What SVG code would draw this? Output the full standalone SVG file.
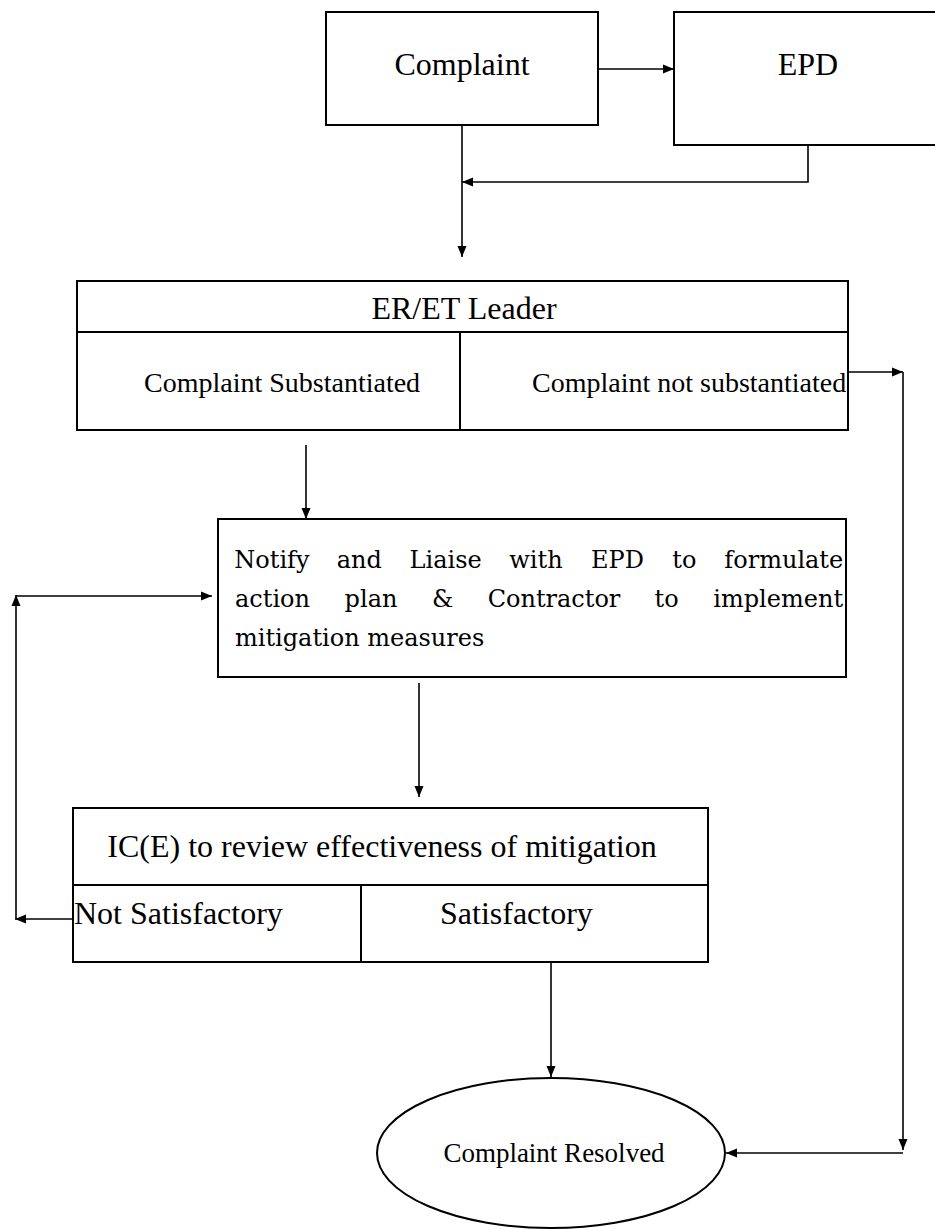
<svg xmlns="http://www.w3.org/2000/svg" width="935" height="1230" viewBox="0 0 935 1230">
<defs>
<marker id="ah" markerWidth="12" markerHeight="10" refX="11" refY="5" orient="auto" markerUnits="userSpaceOnUse"><path d="M0,0.5 L11,5 L0,9.5 z" fill="#000"/></marker>
</defs>
<style>
.box{fill:#fff;stroke:#000;stroke-width:2}
.div{stroke:#000;stroke-width:2;fill:none}
.con{stroke:#000;stroke-width:1.6;fill:none;marker-end:url(#ah)}
.t{font-family:"Liberation Serif","Times New Roman",serif;fill:#000}
.t32{font-size:32px}
.t28{font-size:28px}
.t27{font-size:27px}
.n{font-family:"DejaVu Serif",serif;font-size:24px;fill:#000}
</style>
<rect width="935" height="1230" fill="#fff"/>
<g id="complaint">
<rect class="box" x="326" y="12" width="272" height="113"/>
<text class="t t32" x="462" y="75" text-anchor="middle">Complaint</text>
</g>
<g id="epd">
<rect class="box" x="674" y="12" width="270" height="133"/>
<text class="t t32" x="808" y="75" text-anchor="middle">EPD</text>
</g>
<g id="er-et-leader">
<rect class="box" x="77" y="281" width="771" height="149"/>
<line class="div" x1="77" y1="332" x2="848" y2="332"/>
<line class="div" x1="460" y1="332" x2="460" y2="430"/>
<text class="t t32" x="464" y="319" text-anchor="middle">ER/ET Leader</text>
<text class="t t28" x="144" y="392">Complaint Substantiated</text>
<text class="t t28" x="532" y="392">Complaint not substantiated</text>
</g>
<g id="notify">
<rect class="box" x="218" y="519" width="628" height="158"/>
<text class="n" y="568" text-anchor="middle"><tspan x="271.9">Notify</tspan><tspan x="359.3">and</tspan><tspan x="445.6">Liaise</tspan><tspan x="536">with</tspan><tspan x="617.5">EPD</tspan><tspan x="684.4">to</tspan><tspan x="783.8">formulate</tspan></text>
<text class="n" y="607" text-anchor="middle"><tspan x="272.5">action</tspan><tspan x="371">plan</tspan><tspan x="442.7">&amp;</tspan><tspan x="554">Contractor</tspan><tspan x="666.6">to</tspan><tspan x="778.2">implement</tspan></text>
<text class="n" x="235" y="646">mitigation measures</text>
</g>
<g id="ic-review">
<rect class="box" x="73" y="808" width="635" height="154"/>
<line class="div" x1="73" y1="885" x2="708" y2="885"/>
<line class="div" x1="361" y1="885" x2="361" y2="962"/>
<text class="t t32" x="382" y="857" text-anchor="middle">IC(E) to review effectiveness of mitigation</text>
<text class="t t32" x="74" y="924">Not Satisfactory</text>
<text class="t t32" x="440" y="924">Satisfactory</text>
</g>
<g id="resolved">
<ellipse class="box" cx="551" cy="1153" rx="174" ry="75"/>
<text class="t t27" x="554" y="1162" text-anchor="middle">Complaint Resolved</text>
</g>
<g id="connectors">
<path class="con" d="M598,69 H674"/>
<path class="con" d="M462,125 V257"/>
<path class="con" d="M808,145 V182 H462"/>
<path class="con" d="M306,445 V519"/>
<path class="con" d="M848,372 H903"/>
<path class="con" d="M903,372 V1150"/>
<path class="con" d="M903,1153 H726"/>
<path class="con" d="M419,683 V797"/>
<path class="con" d="M73,919 H15"/>
<path class="con" d="M16,919 V595"/>
<path class="con" d="M16,596 H212"/>
<path class="con" d="M551,962 V1077"/>
</g>
</svg>
